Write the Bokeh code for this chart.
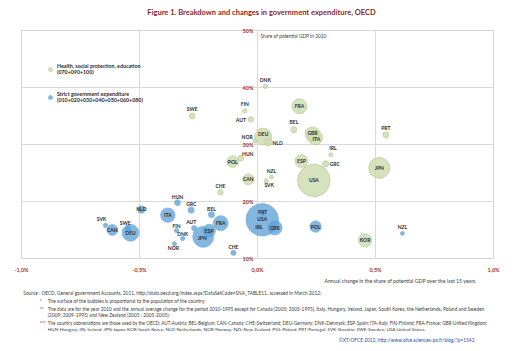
import math
from bokeh.plotting import figure
from bokeh.layouts import column
from bokeh.models import ColumnDataSource, Label, FixedTicker, Range1d, Legend, LegendItem
from bokeh.core.properties import value
from bokeh.embed import file_html
from bokeh.resources import INLINE

# ---------------- data ----------------
population = {  # millions, 2010
    "AUT": 8.4, "BEL": 10.9, "CAN": 34.0, "CHE": 7.8, "DEU": 81.8, "DNK": 5.5,
    "ESP": 46.1, "FIN": 5.4, "FRA": 65.0, "GBR": 62.3, "GRC": 11.3, "HUN": 10.0,
    "IRL": 4.5, "ITA": 60.5, "JPN": 127.5, "KOR": 49.4, "NLD": 16.6, "NOR": 4.9,
    "NZL": 4.4, "POL": 38.2, "PRT": 10.6, "SVK": 5.4, "SWE": 9.4, "USA": 309.3,
}

# Health, social protection, education (070+090+100)
health_countries = ["DNK", "SWE", "FIN", "AUT", "FRA", "BEL", "DEU", "NOR", "NLD", "GBR",
                    "ITA", "IRL", "ESP", "GRC", "HUN", "POL", "NZL", "CAN", "USA", "JPN",
                    "PRT", "SVK", "CHE", "KOR"]
health_change = [0.033, -0.277, -0.054, -0.028, 0.178, 0.154, 0.024, -0.010, 0.047, 0.233,
                 0.245, 0.311, 0.186, 0.289, -0.071, -0.105, 0.059, -0.039, 0.239, 0.516,
                 0.544, 0.037, -0.157, 0.456]
health_share = [40.2, 35.0, 35.9, 34.4, 36.7, 32.6, 31.4, 30.6, 30.4, 31.8,
                31.2, 28.2, 27.1, 26.6, 27.6, 27.0, 24.3, 23.9, 23.7, 25.9,
                31.7, 23.6, 21.6, 13.2]

# Strict government expenditure (010+020+030+040+050+060+080)
strict_countries = ["HUN", "NLD", "GRC", "BEL", "ITA", "SVK", "CAN", "SWE", "DEU", "FRA",
                    "AUT", "FIN", "DNK", "ESP", "JPN", "NOR", "CHE", "USA", "PRT", "IRL",
                    "GBR", "POL", "NZL"]
strict_change = [-0.339, -0.492, -0.281, -0.195, -0.380, -0.644, -0.615, -0.548, -0.538, -0.156,
                 -0.268, -0.343, -0.317, -0.205, -0.230, -0.352, -0.102, 0.020, 0.022, 0.010,
                 0.073, 0.246, 0.614]
strict_share = [19.8, 18.6, 18.5, 17.7, 17.6, 15.8, 15.0, 15.2, 14.5, 16.2,
                15.3, 14.9, 13.5, 14.9, 13.8, 12.6, 11.0, 16.8, 17.9, 15.5,
                15.4, 15.6, 14.4]

x_ticks = [-1.0, -0.5, 0.0, 0.5, 1.0]
x_tick_labels = ["-1,0%", "-0,5%", "0,0%", "0,5%", "1,0%"]
y_ticks = [10, 20, 30, 40, 50]
y_tick_labels = ["10%", "20%", "30%", "40%", "50%"]

# label offsets (screen px, +up) — layout only
health_label_off = [(0, 6), (0, 7), (0, 7), (-10, -1), (0, 0), (0, 8), (0, 3), (-8, 4), (9, -1), (0, 1),
                    (1, -1), (2, 7), (0, 0), (9, 0), (7, 4), (0, 0), (0, 6), (0, 0), (0, 0), (0, 0),
                    (0, 7), (3, -4), (0, 6), (0, 0)]
strict_label_off = [(0, 6), (0, 0), (0, 6), (0, 6), (0, 0), (-4, 6), (0, 0), (-3, 6), (0, 0), (0, 0),
                    (-3, 6), (0, 5), (0, 5), (0, 0), (-1, -1), (-1, -4), (0, 6), (0, 1), (0, 1), (-1, 0),
                    (0, 0), (0, 0), (0, 6)]

# ---------------- layout ----------------
W, H = 520, 351
MAIN_H = 275
FL, FR, FT, FB = 21, 493, 30, 259
X0, X1, Y0, Y1 = -1.0, 1.0, 10.0, 50.0


def px2x(px):
    return X0 + (px - FL) / (FR - FL) * (X1 - X0)


def py2y(py):
    return Y0 + (FB - py) / (FB - FT) * (Y1 - Y0)


def bubble(pop):
    return 1.85 * math.sqrt(pop)


FONT = "Lato"
RED = "#a8322d"
TXT = "#3a3a3a"

p = figure(width=W, height=MAIN_H, output_backend="svg", toolbar_location=None,
           x_range=Range1d(X0, X1), y_range=Range1d(Y0, Y1),
           min_border_left=FL, min_border_right=W - FR, min_border_top=FT,
           min_border_bottom=MAIN_H - FB)
p.background_fill_color = "white"
p.border_fill_color = "white"
p.outline_line_color = "#d4d4d4"
p.outline_line_width = 1

p.yaxis.visible = False
p.xaxis.ticker = FixedTicker(ticks=x_ticks)
p.xaxis.major_label_overrides = {t: l for t, l in zip(x_ticks, x_tick_labels)}
p.xaxis.axis_line_color = None
p.xaxis.major_tick_line_color = None
p.xaxis.minor_tick_line_color = None
p.xaxis.major_tick_out = 0
p.xaxis.major_tick_in = 0
p.xaxis.minor_tick_out = 0
p.xaxis.major_label_standoff = 8
p.xaxis.major_label_text_font = FONT
p.xaxis.major_label_text_font_size = "5.5px"
p.xaxis.major_label_text_font_style = "bold"
p.xaxis.major_label_text_color = RED

p.xgrid.ticker = FixedTicker(ticks=x_ticks)
p.ygrid.ticker = FixedTicker(ticks=y_ticks)
p.xgrid.grid_line_color = "#d9d9d9"
p.ygrid.grid_line_color = "#d9d9d9"

src_h = ColumnDataSource(dict(
    x=health_change, y=health_share, name=health_countries,
    size=[bubble(population[c]) for c in health_countries],
    xo=[o[0] for o in health_label_off], yo=[-o[1] for o in health_label_off]))
src_s = ColumnDataSource(dict(
    x=strict_change, y=strict_share, name=strict_countries,
    size=[bubble(population[c]) for c in strict_countries],
    xo=[o[0] for o in strict_label_off], yo=[-o[1] for o in strict_label_off]))

r_h = p.scatter("x", "y", size="size", source=src_h, fill_color="#cfddb3", fill_alpha=0.85,
                line_color="#bccd9a", line_width=0.8)
r_s = p.scatter("x", "y", size="size", source=src_s, fill_color="#5b9fd4", fill_alpha=0.75,
                line_color="#7fb2dd", line_width=0.8)

for src in (src_h, src_s):
    p.text("x", "y", text="name", source=src, x_offset="xo", y_offset="yo",
           text_font=value(FONT), text_font_size="5px", text_font_style="bold",
           text_color="#2b2b2b", text_align="center", text_baseline="middle")

legend = Legend(items=[
    LegendItem(label="Health, social protection, education\n(070+090+100)", renderers=[r_h]),
    LegendItem(label="Strict government expenditure\n(010+020+030+040+050+060+080)", renderers=[r_s]),
], location=(24, 155), padding=0, margin=0, spacing=16, glyph_width=10, glyph_height=10,
    label_standoff=2, background_fill_alpha=0, border_line_color=None,
    label_text_font=FONT, label_text_font_size="5.3px", label_text_font_style="bold",
    label_text_line_height=1.45, label_text_color="#2b2b2b")
p.add_layout(legend)


def lab(s, x, y, place, size, align="left", color=TXT, style="normal", x_offset=0):
    p.add_layout(Label(x=x, y=y, text=s, x_offset=x_offset, text_align=align,
                       text_baseline="middle", text_font=FONT, text_font_size=size,
                       text_color=color, text_font_style=style), place)


# y tick labels along the zero line (top/bottom ones in the side panel so they are not clipped)
for t, l in zip(y_ticks, y_tick_labels):
    place = "above" if t in (y_ticks[0], y_ticks[-1]) else "center"
    lab(l, 0, t, place, "5.5px", align="right", color=RED, style="bold", x_offset=-4)

lab("Figure 1. Breakdown and changes in government expenditure, OECD", px2x(261), py2y(12),
    "above", "7.5px", align="center", color="#8e1f1f", style="bold")
lab("Share of potential GDP in 2010", px2x(260), py2y(36), "center", "4.8px")

# ---------------- notes panel (pixel coordinates) ----------------
NH = H - MAIN_H
n = figure(width=W, height=NH, output_backend="svg", toolbar_location=None,
           x_range=Range1d(0, W), y_range=Range1d(H, MAIN_H), min_border=0)
n.axis.visible = False
n.grid.visible = False
n.outline_line_color = None
n.background_fill_color = "white"
n.border_fill_color = "white"


def note(px, py, s, size="4.8px", align="left", color=TXT):
    n.text(x=[px], y=[py], text=[s], text_font=value(FONT), text_font_size=size,
           text_align=align, text_baseline="middle", text_color=color)


note(500.5, 280, "Annual change in the share of potential GDP over the last 15 years", size="5.2px",
     align="right")
note(2, 292.5, "Source  : OECD, General government Accounts, 2011, http://stats.oecd.org/index.aspx?DataSetCode=SNA_TABLE11, accessed in March 2012;")
note(20, 300.7, "*")
note(29, 300.7, "The surface of the bubbles is proportional to the population of the country;")
note(20, 308.5, "**")
note(29, 308.5, "The data are for the year 2010 and the annual average change for the period 2010-1995 except for Canada (2005; 2005-1995), Italy, Hungary, Ireland, Japan, South Korea,  the Netherlands, Poland and Sweden")
note(29, 314.5, "(2009; 2009-1995) and New Zealand (2005 ; 2005-2005);")
note(20, 322, "***")
note(29, 322, "The country abbreviations are those used by the OECD: AUT-Austria; BEL-Belgium; CAN-Canada; CHE-Switzerland; DEU-Germany; DNK-Denmark; ESP-Spain; ITA-Italy; FIN-Finland; FRA-France; GBR-United Kingdom;",
     size="4.62px")
note(29, 328, "HUN-Hungary; IRL-Ireland; JPN-Japan; KOR-South Korea; NLD-Netherlands; NOR-Norway; NZL-New Zealand; POL-Poland; PRT-Portugal; SVK-Slovakia; SWE-Sweden; USA-United States.",
     size="4.6px")
note(499, 339, "©XT/OFCE 2012, http://www.ofce.sciences-po.fr/blog/?p=1542", size="4.8px",
     align="right", color="#1f4e9e")

layout = column(p, n, spacing=0)
open("out.html", "w").write(file_html(layout, INLINE))
